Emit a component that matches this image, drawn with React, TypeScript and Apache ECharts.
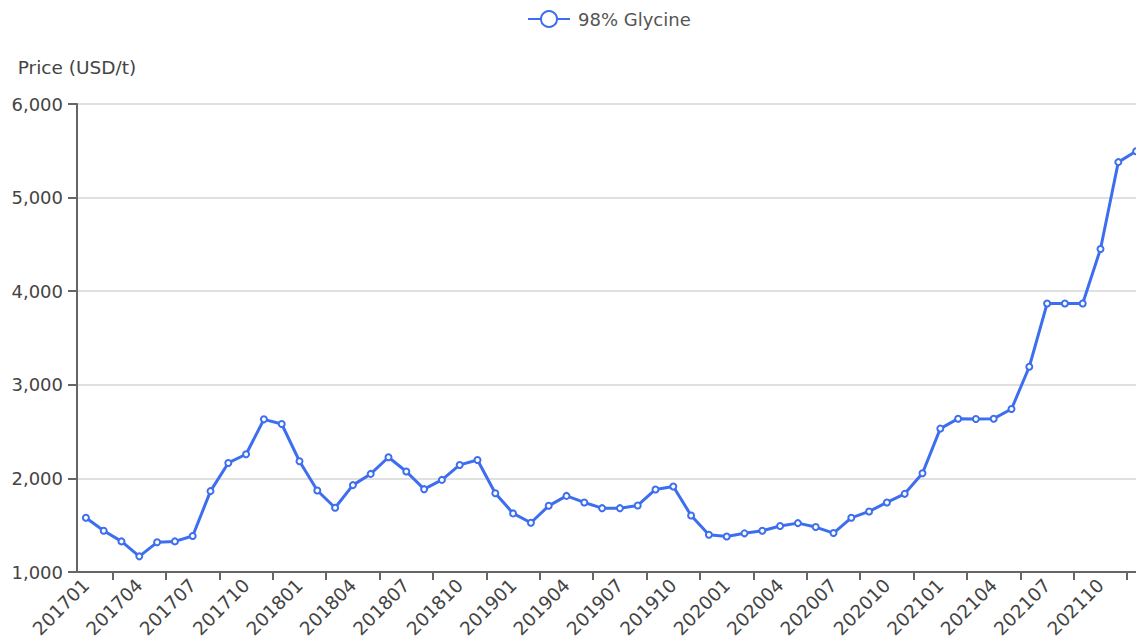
import React, { useEffect, useRef } from "react";
import * as echarts from "echarts";

const months: string[] = [
  "201701","201702","201703","201704","201705","201706","201707","201708","201709","201710","201711","201712",
  "201801","201802","201803","201804","201805","201806","201807","201808","201809","201810","201811","201812",
  "201901","201902","201903","201904","201905","201906","201907","201908","201909","201910","201911","201912",
  "202001","202002","202003","202004","202005","202006","202007","202008","202009","202010","202011","202012",
  "202101","202102","202103","202104","202105","202106","202107","202108","202109","202110","202111","202112",
];

const glycine98: number[] = [
  1580, 1440, 1327, 1167, 1317, 1327, 1384, 1864, 2165, 2258, 2631, 2581,
  2183, 1871, 1686, 1928, 2048, 2226, 2074, 1885, 1984, 2144, 2197, 1842,
  1626, 1526, 1707, 1813, 1743, 1682, 1682, 1711, 1882, 1914, 1604, 1398,
  1380, 1413, 1440, 1492, 1522, 1480, 1416, 1579, 1647, 1743, 1835, 2055,
  2532, 2638, 2634, 2638, 2741, 3193, 3868, 3868, 3868, 4451, 5379, 5496,
];

const seriesName = "98% Glycine";
const yAxisName = "Price (USD/t)";
const yTicks = { min: 1000, max: 6000, interval: 1000 };

const FONT = "'DejaVu Sans', 'Open Sans', sans-serif";

export default function App() {
  const ref = useRef<HTMLDivElement>(null);

  useEffect(() => {
    if (!ref.current) return;
    const chart = echarts.init(ref.current, undefined, { renderer: "svg" });
    chart.setOption({
      animation: false,
      textStyle: { fontFamily: FONT },
      legend: {
        data: [seriesName],
        left: 527,
        top: 10,
        padding: 0,
        itemWidth: 42,
        itemHeight: 20,
        textStyle: { fontSize: 18, color: "#555", fontFamily: FONT, padding: [0, 0, 0, 3] },
      },
      grid: { left: 77, top: 104, bottom: 70, right: 5, containLabel: false },
      xAxis: {
        type: "category",
        data: months,
        boundaryGap: true,
        axisLine: { lineStyle: { color: "#666", width: 2 } },
        axisTick: {
          show: true,
          length: 8,
          interval: (i: number) => i % 3 === 2,
          lineStyle: { color: "#666", width: 2 },
        },
        axisLabel: {
          interval: 2,
          rotate: 45,
          margin: 10,
          fontSize: 18.5,
          color: "#444",
          fontFamily: FONT,
        },
      },
      yAxis: {
        type: "value",
        min: yTicks.min,
        max: yTicks.max,
        interval: yTicks.interval,
        name: yAxisName,
        nameLocation: "end",
        nameGap: 27,
        nameTextStyle: { fontSize: 18.5, color: "#444", fontFamily: FONT },
        axisLine: { show: true, lineStyle: { color: "#666", width: 2 } },
        axisTick: { show: true, length: 9, lineStyle: { color: "#666", width: 2 } },
        axisLabel: {
          margin: 14,
          fontSize: 18,
          color: "#444",
          fontFamily: FONT,
          formatter: (v: number) => v.toLocaleString("en-US"),
        },
        splitLine: { show: true, lineStyle: { color: "#e0e0e0", width: 2 } },
      },
      series: [
        {
          name: seriesName,
          type: "line",
          data: glycine98,
          symbol: "emptyCircle",
          symbolSize: 6,
          showAllSymbol: true,
          itemStyle: { color: "#3d6ef0", borderWidth: 1.5 },
          lineStyle: { color: "#3d6ef0", width: 3 },
        },
      ],
    });
    return () => chart.dispose();
  }, []);

  return (
    <div
      style={{
        position: "fixed",
        left: 0,
        top: 0,
        width: 1136,
        height: 642,
        overflow: "hidden",
        background: "#fff",
      }}
    >
      <div ref={ref} style={{ width: 1150, height: 642 }} />
    </div>
  );
}
